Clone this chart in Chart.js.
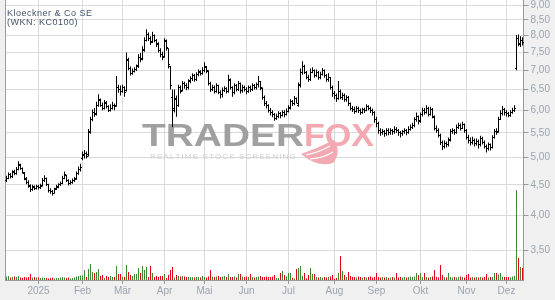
<!DOCTYPE html>
<html>
<head>
<meta charset="utf-8">
<script src="https://cdn.jsdelivr.net/npm/chart.js@4.4.1/dist/chart.umd.min.js"></script>
<style>
  html, body { margin: 0; padding: 0; background: #f0f0f0; }
  #wrap { width: 555px; height: 300px; }
</style>
</head>
<body>
<div id="wrap"><canvas id="chart" width="555" height="300"></canvas></div>
<script>
const title = 'Kloeckner & Co SE';
const subtitle = '(WKN: KC0100)';

// month labels, January shows the year
const monthNames = ['2025', 'Feb', 'Mär', 'Apr', 'Mai', 'Jun', 'Jul', 'Aug', 'Sep', 'Okt', 'Nov', 'Dez'];
const priceTicks = [3.5, 4, 4.5, 5, 5.5, 6, 6.5, 7, 7.5, 8, 8.5, 9];

// Xetra trading days shown
const firstDay = '2024-12-04';
const lastDay = '2025-12-11';
const holidays = ['2024-12-24', '2024-12-25', '2024-12-26', '2024-12-31', '2025-01-01',
    '2025-04-18', '2025-04-21', '2025-05-01'];

const opens = [
    4.58, 4.62, 4.69, 4.64, 4.73, 4.70, 4.78, 4.86, 4.79, 4.71, 4.61, 4.55, 4.49, 4.42, 4.47, 4.44,
    4.48, 4.45, 4.49, 4.58, 4.61, 4.50, 4.41, 4.38, 4.36, 4.43, 4.46, 4.50, 4.53, 4.62, 4.67, 4.57, 4.52, 4.55, 4.57, 4.61, 4.70, 4.77,
    4.98, 5.04, 5.08, 5.05, 5.52, 5.80, 5.96, 5.90, 6.12, 6.24, 6.12, 6.05, 6.17, 6.08, 6.00, 6.05, 6.12, 6.10, 6.55, 6.50,
    6.45, 6.55, 6.48, 7.28, 7.05, 6.92, 6.98, 7.02, 7.12, 7.36, 7.32, 7.58, 7.86, 8.04, 7.92, 7.82, 8.00, 7.84, 7.74, 7.56, 7.44,
    7.38, 7.82, 7.60, 7.10, 6.30, 6.05, 6.28, 6.12, 6.55, 6.48, 6.65, 6.60, 6.55, 6.72, 6.78, 6.86, 6.76, 6.88, 6.96, 6.92,
    7.00, 7.08, 6.98, 6.66, 6.50, 6.56, 6.45, 6.60, 6.42, 6.38, 6.48, 6.52, 6.45, 6.74, 6.55, 6.42, 6.60, 6.50, 6.64, 6.48, 6.55,
    6.50, 6.46, 6.55, 6.50, 6.60, 6.55, 6.62, 6.70, 6.52, 6.30, 6.15, 6.10, 6.00, 5.95, 5.90, 5.82, 5.85, 5.92, 5.88, 5.95, 5.90,
    5.98, 6.06, 6.20, 6.15, 6.28, 6.12, 6.62, 6.94, 7.10, 6.95, 6.82, 6.76, 6.95, 7.00, 6.86, 6.95, 6.80, 6.90, 7.00, 6.86, 6.75, 6.80, 6.56,
    6.40, 6.35, 6.28, 6.45, 6.30, 6.35, 6.25, 6.30, 6.15, 6.05, 6.02, 5.98, 6.05, 6.00, 5.95, 6.02, 6.00, 6.08, 6.05, 6.00, 5.95,
    5.80, 5.70, 5.55, 5.50, 5.52, 5.48, 5.55, 5.50, 5.55, 5.52, 5.58, 5.55, 5.50, 5.48, 5.52, 5.55, 5.50, 5.58, 5.62, 5.66, 5.78, 5.85,
    5.76, 5.90, 6.00, 5.95, 6.05, 5.90, 6.02, 5.84, 5.60, 5.55, 5.45, 5.30, 5.22, 5.28, 5.25, 5.36, 5.52, 5.55, 5.50, 5.62, 5.65, 5.60, 5.68,
    5.55, 5.40, 5.35, 5.30, 5.35, 5.28, 5.32, 5.25, 5.38, 5.30, 5.22, 5.18, 5.25, 5.20, 5.40, 5.52, 5.52, 5.80, 5.92, 6.02,
    5.95, 5.92, 5.88, 5.95, 6.00, 7.05, 7.92, 7.72, 7.86
];
const highs = [
    4.66, 4.72, 4.71, 4.76, 4.77, 4.82, 4.93, 4.88, 4.81, 4.73, 4.64, 4.58, 4.51, 4.50, 4.49, 4.50,
    4.50, 4.52, 4.62, 4.67, 4.63, 4.52, 4.44, 4.41, 4.45, 4.50, 4.53, 4.56, 4.66, 4.74, 4.68, 4.60, 4.58, 4.61, 4.64, 4.74, 4.83, 4.88,
    5.12, 5.15, 5.12, 5.58, 5.85, 6.02, 6.05, 6.20, 6.38, 6.28, 6.18, 6.24, 6.22, 6.12, 6.14, 6.20, 6.16, 6.85, 6.62, 6.60,
    6.62, 6.58, 7.50, 7.35, 7.10, 7.05, 7.08, 7.16, 7.45, 7.48, 7.68, 7.95, 8.20, 8.10, 7.98, 8.12, 8.04, 7.90, 7.80, 7.62, 7.52,
    7.92, 7.88, 7.62, 7.12, 6.50, 6.50, 6.35, 6.62, 6.60, 6.72, 6.70, 6.66, 6.76, 6.84, 6.92, 6.90, 6.95, 7.02, 7.00, 7.08,
    7.22, 7.12, 7.00, 6.70, 6.62, 6.60, 6.66, 6.62, 6.48, 6.55, 6.58, 6.56, 6.88, 6.78, 6.58, 6.66, 6.64, 6.72, 6.68, 6.62, 6.60,
    6.56, 6.60, 6.60, 6.66, 6.64, 6.68, 6.85, 6.72, 6.55, 6.35, 6.22, 6.14, 6.05, 6.00, 5.94, 5.92, 5.98, 5.96, 6.00, 6.00, 6.04,
    6.12, 6.26, 6.24, 6.34, 6.30, 6.68, 7.05, 7.25, 7.15, 6.98, 6.88, 7.05, 7.08, 7.02, 7.02, 6.98, 6.96, 7.06, 7.02, 6.90, 6.92, 6.82, 6.60,
    6.46, 6.40, 6.72, 6.50, 6.42, 6.40, 6.36, 6.34, 6.18, 6.10, 6.08, 6.10, 6.08, 6.04, 6.06, 6.06, 6.14, 6.12, 6.08, 6.04, 5.98,
    5.85, 5.74, 5.60, 5.58, 5.56, 5.60, 5.60, 5.60, 5.58, 5.64, 5.62, 5.58, 5.54, 5.56, 5.60, 5.58, 5.64, 5.68, 5.72, 5.84, 5.95, 5.88,
    5.95, 6.06, 6.05, 6.12, 6.08, 6.08, 6.05, 5.88, 5.66, 5.60, 5.48, 5.34, 5.34, 5.32, 5.40, 5.58, 5.60, 5.58, 5.68, 5.72, 5.70, 5.74, 5.70,
    5.58, 5.46, 5.40, 5.42, 5.38, 5.38, 5.36, 5.44, 5.42, 5.34, 5.26, 5.30, 5.28, 5.45, 5.58, 5.60, 5.85, 6.00, 6.10, 6.05,
    6.00, 5.96, 6.00, 6.06, 6.12, 8.02, 8.04, 7.98, 7.95
];
const lows = [
    4.55, 4.60, 4.61, 4.62, 4.67, 4.68, 4.76, 4.77, 4.70, 4.58, 4.51, 4.45, 4.38, 4.40, 4.41, 4.42,
    4.42, 4.43, 4.47, 4.55, 4.48, 4.37, 4.35, 4.32, 4.35, 4.41, 4.44, 4.48, 4.51, 4.60, 4.55, 4.49, 4.50, 4.52, 4.55, 4.59, 4.68, 4.74,
    4.95, 4.98, 4.98, 5.02, 5.48, 5.75, 5.85, 5.88, 6.08, 6.08, 6.00, 6.02, 6.04, 5.96, 5.97, 6.02, 6.00, 6.08, 6.42, 6.35,
    6.42, 6.32, 6.45, 7.00, 6.86, 6.88, 6.94, 6.98, 7.06, 7.22, 7.28, 7.52, 7.82, 7.84, 7.72, 7.78, 7.80, 7.66, 7.50, 7.36, 7.28,
    7.35, 7.55, 7.05, 6.50, 5.62, 5.95, 5.85, 6.08, 6.40, 6.45, 6.52, 6.48, 6.50, 6.66, 6.72, 6.70, 6.72, 6.84, 6.86, 6.88,
    6.95, 6.92, 6.60, 6.44, 6.46, 6.40, 6.42, 6.38, 6.28, 6.30, 6.44, 6.40, 6.42, 6.50, 6.32, 6.38, 6.45, 6.46, 6.40, 6.42, 6.45,
    6.38, 6.42, 6.44, 6.46, 6.50, 6.50, 6.55, 6.48, 6.25, 6.10, 6.04, 5.95, 5.88, 5.84, 5.76, 5.78, 5.82, 5.82, 5.86, 5.84, 5.88,
    5.95, 6.02, 6.10, 6.12, 6.16, 6.08, 6.55, 6.88, 6.90, 6.76, 6.70, 6.72, 6.92, 6.80, 6.82, 6.75, 6.76, 6.86, 6.80, 6.70, 6.70, 6.50, 6.32,
    6.26, 6.20, 6.25, 6.26, 6.24, 6.20, 6.20, 6.10, 6.00, 5.96, 5.92, 5.95, 5.94, 5.90, 5.92, 5.94, 5.98, 6.00, 5.94, 5.88, 5.72,
    5.62, 5.48, 5.44, 5.46, 5.42, 5.44, 5.45, 5.46, 5.46, 5.48, 5.50, 5.44, 5.40, 5.44, 5.48, 5.45, 5.48, 5.55, 5.58, 5.62, 5.74, 5.68,
    5.72, 5.86, 5.90, 5.92, 5.86, 5.88, 5.82, 5.55, 5.50, 5.40, 5.25, 5.15, 5.18, 5.20, 5.22, 5.32, 5.48, 5.46, 5.48, 5.58, 5.55, 5.58, 5.50,
    5.36, 5.28, 5.24, 5.26, 5.22, 5.24, 5.18, 5.22, 5.26, 5.18, 5.10, 5.14, 5.14, 5.18, 5.38, 5.46, 5.50, 5.78, 5.88, 5.88,
    5.86, 5.84, 5.85, 5.92, 5.96, 7.00, 7.68, 7.66, 7.70
];
const closes = [
    4.62, 4.68, 4.64, 4.72, 4.70, 4.78, 4.85, 4.80, 4.72, 4.60, 4.55, 4.48, 4.42, 4.46, 4.44, 4.47,
    4.45, 4.48, 4.58, 4.62, 4.50, 4.40, 4.38, 4.36, 4.42, 4.47, 4.50, 4.52, 4.62, 4.68, 4.58, 4.52, 4.55, 4.57, 4.60, 4.70, 4.78, 4.82,
    5.05, 5.08, 5.02, 5.50, 5.78, 5.95, 5.92, 6.10, 6.25, 6.12, 6.05, 6.18, 6.08, 6.00, 6.05, 6.12, 6.08, 6.55, 6.50, 6.45,
    6.55, 6.42, 7.30, 7.05, 6.92, 6.98, 7.02, 7.10, 7.35, 7.30, 7.55, 7.85, 8.05, 7.90, 7.80, 8.00, 7.85, 7.75, 7.55, 7.45, 7.35,
    7.85, 7.65, 7.15, 6.60, 6.00, 6.25, 6.10, 6.55, 6.45, 6.65, 6.60, 6.55, 6.70, 6.78, 6.85, 6.75, 6.88, 6.95, 6.92, 7.00,
    7.10, 7.00, 6.65, 6.50, 6.55, 6.45, 6.60, 6.42, 6.38, 6.48, 6.52, 6.45, 6.75, 6.55, 6.42, 6.60, 6.50, 6.65, 6.48, 6.55, 6.50,
    6.45, 6.55, 6.50, 6.60, 6.55, 6.62, 6.70, 6.55, 6.30, 6.15, 6.10, 6.00, 5.95, 5.90, 5.82, 5.85, 5.92, 5.88, 5.95, 5.90, 5.98,
    6.05, 6.20, 6.15, 6.28, 6.15, 6.60, 6.95, 7.10, 6.95, 6.82, 6.75, 6.95, 7.00, 6.85, 6.95, 6.80, 6.90, 7.00, 6.85, 6.75, 6.80, 6.55, 6.40,
    6.35, 6.28, 6.45, 6.30, 6.35, 6.25, 6.30, 6.15, 6.05, 6.02, 5.98, 6.05, 6.00, 5.95, 6.02, 6.00, 6.08, 6.05, 6.00, 5.95, 5.80,
    5.70, 5.55, 5.50, 5.52, 5.48, 5.55, 5.50, 5.55, 5.52, 5.58, 5.55, 5.50, 5.48, 5.52, 5.55, 5.50, 5.58, 5.62, 5.65, 5.78, 5.85, 5.75,
    5.90, 6.00, 5.95, 6.05, 5.90, 6.02, 5.85, 5.60, 5.55, 5.45, 5.30, 5.22, 5.28, 5.25, 5.35, 5.52, 5.55, 5.50, 5.62, 5.65, 5.60, 5.68, 5.55,
    5.40, 5.35, 5.30, 5.35, 5.28, 5.32, 5.25, 5.38, 5.30, 5.22, 5.18, 5.25, 5.20, 5.40, 5.52, 5.50, 5.80, 5.92, 6.02, 5.95,
    5.92, 5.88, 5.95, 6.00, 6.05, 7.90, 7.75, 7.85, 7.80
];
// volume in thousand shares
const volumes = [
    35, 40, 25, 30, 35, 30, 40, 25, 20, 30, 25, 30, 60, 25, 30, 25,
    25, 20, 25, 20, 20, 15, 20, 25, 15, 20, 20, 25, 30, 25, 20, 25, 15, 20, 25, 35, 40, 45,
    45, 100, 30, 110, 160, 80, 70, 80, 110, 40, 50, 20, 40, 30, 40, 30, 30, 140, 60, 60,
    30, 30, 150, 80, 50, 40, 60, 60, 120, 70, 140, 100, 130, 30, 140, 70, 30, 40, 30, 40, 40,
    60, 20, 50, 100, 130, 25, 50, 40, 35, 40, 35, 30, 30, 30, 30, 25, 30, 30, 25, 40,
    30, 25, 35, 100, 35, 30, 35, 40, 30, 35, 40, 30, 60, 30, 30, 35, 25, 60, 60, 35, 30,
    35, 30, 60, 30, 25, 30, 35, 40, 30, 30, 35, 30, 30, 35, 50, 20, 20, 70, 90, 50, 35,
    70, 70, 20, 15, 110, 120, 140, 40, 70, 15, 50, 120, 60, 60, 30, 25, 30, 25, 30, 25, 30, 35, 50,
    12, 20, 70, 240, 90, 50, 30, 80, 40, 30, 30, 25, 35, 30, 25, 30, 25, 30, 35, 25, 30,
    70, 30, 25, 30, 25, 30, 20, 25, 30, 25, 70, 25, 30, 25, 30, 25, 30, 35, 30, 35, 70, 50,
    70, 30, 70, 30, 25, 30, 35, 100, 30, 25, 150, 50, 30, 25, 70, 30, 25, 30, 25, 30, 35, 30, 25,
    50, 60, 25, 30, 25, 30, 25, 30, 25, 30, 60, 25, 30, 30, 70, 70, 55, 70, 30, 30,
    30, 30, 25, 35, 40, 900, 220, 130, 120
];

function tradingDays(from, to) {
    const out = [];
    const d = new Date(from + 'T12:00:00Z');
    const end = new Date(to + 'T12:00:00Z');
    while (d <= end) {
        const iso = d.toISOString().slice(0, 10);
        const wd = d.getUTCDay();
        if (wd !== 0 && wd !== 6 && !holidays.includes(iso)) out.push(iso);
        d.setUTCDate(d.getUTCDate() + 1);
    }
    return out;
}

const days = tradingDays(firstDay, lastDay);
const monthStarts = days.map((d, i) => i).filter(i => i > 0 && days[i].slice(5, 7) !== days[i - 1].slice(5, 7));

const upColor = '#3a8a34';
const downColor = '#e2001a';
const volColors = volumes.map((v, i) => closes[i] >= (i ? closes[i - 1] : opens[i]) ? upColor : downColor);

const font = '"Liberation Sans", Arial, sans-serif';
const labelColor = '#9ba4b0';
const gridColor = '#dadada';
const axisColor = '#9a9a9a';

// page background, white plot area, watermark
const frame = {
    id: 'frame',
    beforeDraw(chart) {
        const { ctx, chartArea: a } = chart;
        ctx.save();
        ctx.fillStyle = '#f0f0f0';
        ctx.fillRect(0, 0, chart.width, chart.height);
        ctx.fillStyle = '#ffffff';
        ctx.fillRect(a.left, a.top, a.right - a.left, a.bottom - a.top);
        ctx.restore();
    },
    beforeDatasetsDraw(chart) {
        const { ctx, chartArea: a } = chart;
        ctx.save();
        // left edge
        ctx.fillStyle = axisColor;
        ctx.fillRect(Math.floor(a.left), a.top, 1, a.bottom - a.top);

        // fox tail, behind the letters
        ctx.fillStyle = '#f3a9b1';
        ctx.beginPath();
        ctx.moveTo(301, 154);
        ctx.quadraticCurveTo(318, 148, 334, 140);
        ctx.quadraticCurveTo(342, 152, 333, 163);
        ctx.quadraticCurveTo(318, 168, 301, 154);
        ctx.fill();
        ctx.strokeStyle = '#ffffff';
        ctx.lineWidth = 1.2;
        ctx.beginPath();
        ctx.moveTo(306, 155);
        ctx.quadraticCurveTo(320, 152, 330, 146);
        ctx.moveTo(310, 159);
        ctx.quadraticCurveTo(324, 158, 333, 152);
        ctx.stroke();

        // logo text
        ctx.font = 'bold 31px ' + font;
        ctx.textBaseline = 'alphabetic';
        const g = ctx.createLinearGradient(0, 123, 0, 146);
        g.addColorStop(0, '#a0a0a0');
        g.addColorStop(1, '#d6d6d6');
        ctx.fillStyle = g;
        let w = ctx.measureText('TRADER').width;
        ctx.save();
        ctx.translate(142, 146);
        ctx.scale(162 / w, 1);
        ctx.fillText('TRADER', 0, 0);
        ctx.restore();
        ctx.fillStyle = '#f3a9b1';
        w = ctx.measureText('FOX').width;
        ctx.save();
        ctx.translate(304, 146);
        ctx.scale(70 / w, 1);
        ctx.fillText('FOX', 0, 0);
        ctx.restore();

        // slogan
        ctx.font = '8px ' + font;
        ctx.fillStyle = '#d0d0d0';
        const slogan = 'REALTIME STOCK SCREENING';
        const chars = slogan.split('');
        const natural = ctx.measureText(slogan).width;
        const gap = (145 - natural) / (chars.length - 1);
        let x = 150;
        chars.forEach(ch => {
            ctx.fillText(ch, x, 159);
            x += ctx.measureText(ch).width + gap;
        });
        ctx.restore();
    },
    afterDatasetsDraw(chart) {
        const { ctx } = chart;
        const xs = chart.scales.x;
        const ys = chart.scales.y;
        ctx.save();
        // open / close ticks
        ctx.fillStyle = '#000000';
        opens.forEach((o, i) => {
            const x = Math.round(xs.getPixelForValue(i) - 0.5);
            ctx.fillRect(x - 1, Math.round(ys.getPixelForValue(o) - 0.5), 1, 1);
            ctx.fillRect(x + 1, Math.round(ys.getPixelForValue(closes[i]) - 0.5), 1, 1);
        });
        // title
        ctx.fillStyle = '#44546a';
        ctx.font = '9px ' + font;
        ctx.letterSpacing = '0.5px';
        ctx.textBaseline = 'alphabetic';
        ctx.fillText(title, 7, 15.5);
        ctx.fillText(subtitle, 7, 25);
        ctx.restore();
    }
};

new Chart(document.getElementById('chart'), {
    type: 'bar',
    data: {
        labels: days,
        datasets: [{
            label: 'Kurs',
            data: days.map((d, i) => [lows[i], highs[i]]),
            backgroundColor: '#000000',
            barThickness: 1,
            inflateAmount: 0,
            grouped: false,
            yAxisID: 'y',
            order: 1
        },
        {
            label: 'Volumen',
            data: volumes,
            backgroundColor: volColors,
            barThickness: 1,
            inflateAmount: 0,
            grouped: false,
            yAxisID: 'v',
            order: 2
        }]
    },
    options: {
        responsive: false,
        devicePixelRatio: 1,
        animation: false,
        events: [],
        layout: {
            padding: { left: 5.5, right: 0, top: 0, bottom: 0 }
        },
        plugins: {
            legend: { display: false },
            tooltip: { enabled: false }
        },
        scales: {
            x: {
                offset: true,
                afterBuildTicks: s => { s.ticks = monthStarts.map(i => ({ value: i })); },
                afterFit: s => { s.height = 20; s.paddingLeft = 0; s.paddingRight = 0; },
                grid: { offset: false, color: gridColor, tickColor: axisColor, tickLength: 4 },
                border: { color: axisColor },
                ticks: {
                    autoSkip: false,
                    maxRotation: 0,
                    padding: 1,
                    color: labelColor,
                    font: { family: font, size: 10 },
                    callback: v => monthNames[Number(days[v].slice(5, 7)) - 1]
                }
            },
            y: {
                type: 'logarithmic',
                position: 'right',
                min: 3.118,
                max: 9.18,
                afterBuildTicks: s => { s.ticks = priceTicks.map(v => ({ value: v })); },
                afterFit: s => { s.width = 31.5; s.paddingTop = 0; s.paddingBottom = 0; },
                grid: { color: gridColor, tickColor: axisColor, tickLength: 5 },
                border: { color: axisColor },
                ticks: {
                    padding: 2,
                    color: labelColor,
                    font: { family: font, size: 10 },
                    callback: v => Number(v).toFixed(2).replace('.', ',')
                }
            },
            v: {
                display: false,
                min: 0,
                max: 2800
            }
        }
    },
    plugins: [frame]
});
</script>
</body>
</html>
